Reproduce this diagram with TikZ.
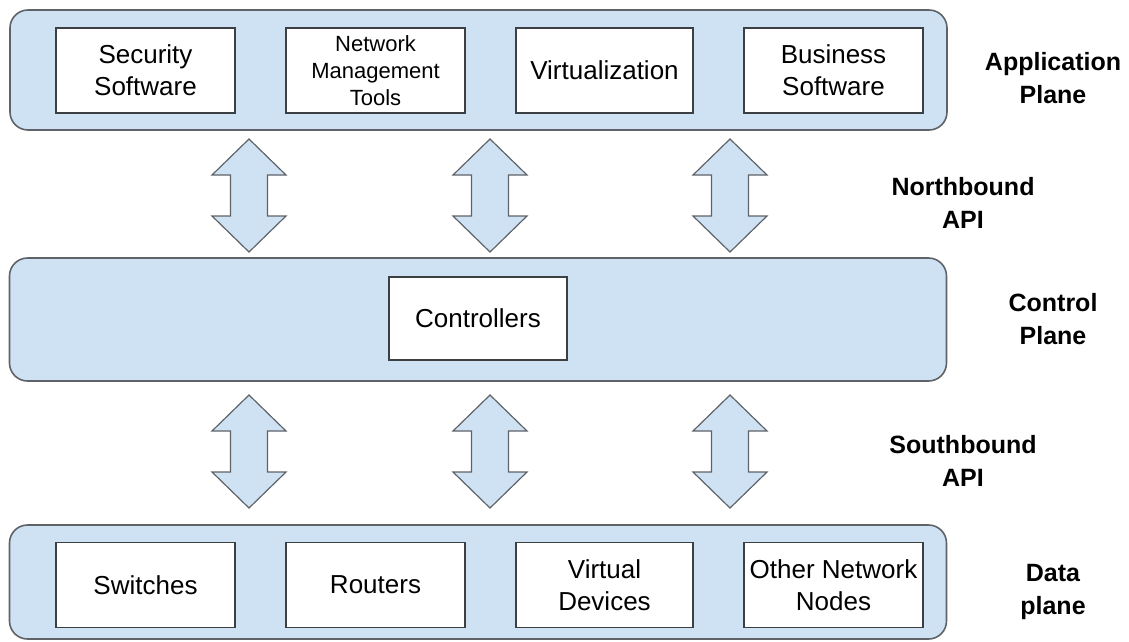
\documentclass[tikz,border=0pt]{standalone}
\usepackage{fontspec}
\setmainfont{Liberation Sans}
\definecolor{planefill}{HTML}{CFE2F3}
\definecolor{planeline}{HTML}{5F6368}
\definecolor{boxline}{HTML}{3C4043}
\tikzset{
  band/.style={draw=planeline, line width=1.6pt, fill=planefill, rounded corners=18pt,
    inner sep=0pt, minimum width=937pt},
  unit/.style={draw=boxline, line width=1.4pt, fill=white, inner sep=0pt,
    minimum height=85pt, align=center, font=\fontsize{26}{32}\selectfont},
  planelabel/.style={align=center, inner sep=0pt, font=\fontsize{25}{33}\selectfont\bfseries},
  twoway/.style={draw=planeline, line width=1.2pt, fill=planefill, line join=miter}
}
\begin{document}
\begin{tikzpicture}[x=1pt, y=-1pt]
  \useasboundingbox (0,0) rectangle (1129,641);

  % the three planes
  \node[band, minimum height=120pt] (app)  at (478.5,70)  {};
  \node[band, minimum height=123pt] (ctl)  at (478,319.5) {};
  \node[band, minimum height=114pt] (data) at (478,582)   {};

  % application plane contents
  \node[unit, minimum width=179pt] (sec)  at (145.5,70.5) {Security\\Software};
  \node[unit, minimum width=179pt, font=\fontsize{22}{27}\selectfont] (nmt) at (375.5,70.5) {Network\\Management\\Tools};
  \node[unit, minimum width=177pt] (virt) at (604.5,70.5) {Virtualization};
  \node[unit, minimum width=179pt] (bus)  at (833.5,70.5) {Business\\Software};

  % control plane contents
  \node[unit, minimum width=178pt, minimum height=83pt] (ctrl) at (478,318.5) {Controllers};

  % data plane contents
  \node[unit, minimum width=179pt] (sw)   at (145.5,585) {Switches};
  \node[unit, minimum width=179pt] (rt)   at (375.5,585) {Routers};
  \node[unit, minimum width=177pt] (vd)   at (604.5,585) {Virtual\\Devices};
  \node[unit, minimum width=179pt] (onn)  at (833.5,585) {Other Network\\Nodes};

  % layer labels
  \node[planelabel] (lapp)  at (1053,78)  {Application\\Plane};
  \node[planelabel] (lnb)   at (963,203)  {Northbound\\API};
  \node[planelabel] (lctl)  at (1053,319) {Control\\Plane};
  \node[planelabel] (lsb)   at (963,461)  {Southbound\\API};
  \node[planelabel] (ldata) at (1053,592) {Data\\plane};

  % block double arrows between the planes
  \foreach \cx in {249,490,730} {
    \foreach \top/\bot in {139/252, 395/508} {
      \draw[twoway]
        (\cx,\top) -- (\cx+37,\top+36) -- (\cx+18.5,\top+36) -- (\cx+18.5,\bot-36)
        -- (\cx+37,\bot-36) -- (\cx,\bot) -- (\cx-37,\bot-36) -- (\cx-18.5,\bot-36)
        -- (\cx-18.5,\top+36) -- (\cx-37,\top+36) -- cycle;
    }
  }
\end{tikzpicture}
\end{document}
